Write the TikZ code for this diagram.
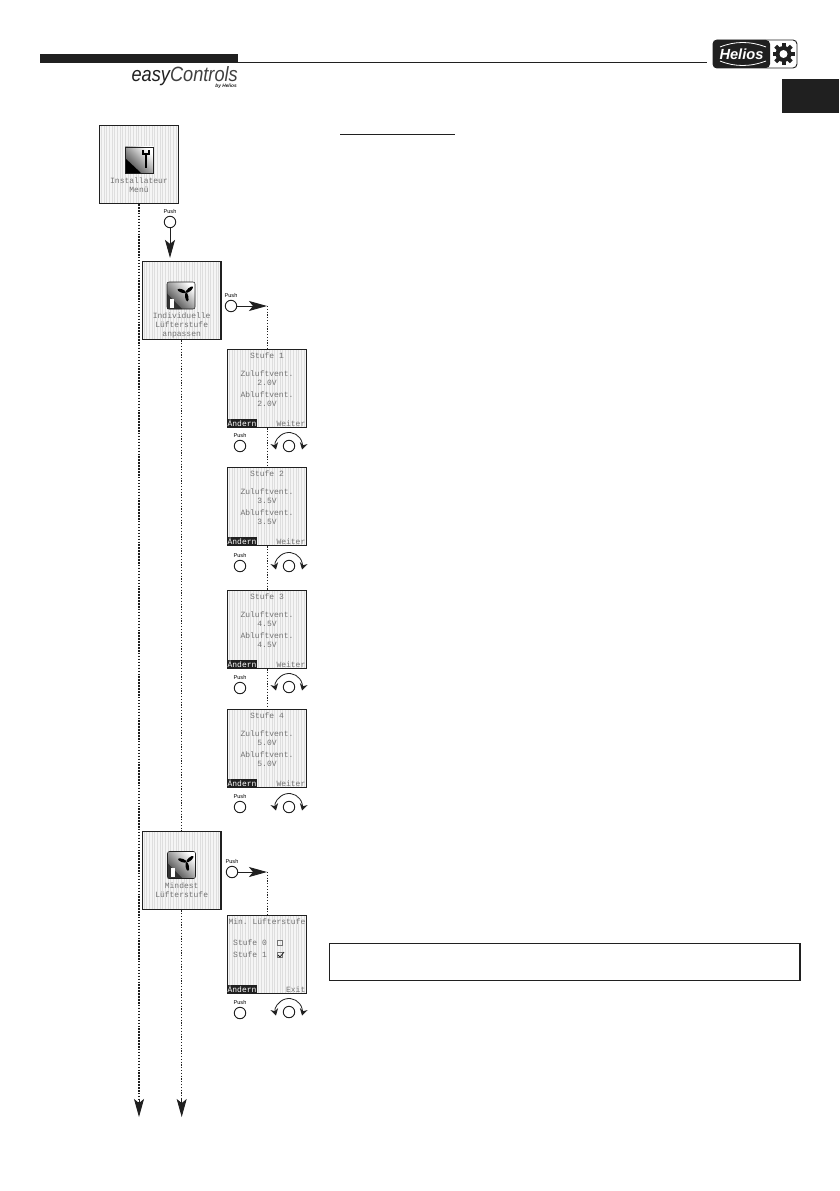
\documentclass[tikz,border=0pt]{standalone}
\usepackage{fontspec}
\setmainfont{Liberation Sans}
\setmonofont{Liberation Mono}
\usetikzlibrary{arrows.meta,patterns.meta}
\definecolor{heliosblack}{RGB}{32,32,32}
\definecolor{lcdtext}{RGB}{115,115,115}
\tikzset{
  screen/.style={draw=heliosblack,line width=0.9pt,minimum size=59pt,inner sep=0pt,
    preaction={fill=black!4},pattern={Lines[angle=90,distance=2pt,line width=0.55pt]},pattern color=black!13},
  lcd/.style={font=\ttfamily\fontsize{6}{6.75}\selectfont,text=lcdtext,align=center,inner sep=0pt},
  softkey/.style={font=\ttfamily\fontsize{6}{6.75}\selectfont,text=white,fill=heliosblack,inner sep=0pt,
    minimum width=22pt,minimum height=6.8pt},
  softright/.style={font=\ttfamily\fontsize{6}{6.75}\selectfont,text=lcdtext,inner sep=0pt},
  pushbtn/.style={circle,draw=heliosblack,line width=0.7pt,minimum size=8.6pt,inner sep=0pt},
  pushtext/.style={font=\fontsize{4.2}{4.4}\selectfont,inner sep=0pt},
  dots/.style={line width=0.6pt,heliosblack,dash pattern=on 0.9pt off 1.2pt},
  heavydots/.style={line width=0.9pt,heliosblack,dash pattern=on 1.1pt off 1.1pt},
  bigarrow/.style={line width=0.7pt,heliosblack,-{Stealth[length=13.5pt,width=7.5pt,inset=3pt]}},
  turnarrow/.style={line width=0.6pt,heliosblack,{Stealth[length=5pt,width=6pt]}-{Stealth[length=5pt,width=6pt]}},
  iconshade/.style={top color=white,middle color=black!12,bottom color=black!75,shading angle=-45}
}
\begin{document}
\begin{tikzpicture}[x=0.75pt,y=-0.75pt]
    \useasboundingbox (0,0) rectangle (839,1191);
    % header
    \fill[heliosblack] (40,54) rectangle (238,63);
    \draw[line width=0.7pt,heliosblack] (238,62.5)--(707,62.5);
    \node[anchor=base east,inner sep=0pt,text depth=0pt,xscale=0.88,transform shape,font=\itshape\fontsize{15.5}{16}\selectfont,text=heliosblack] (brand) at (238,81.7) {easy\textcolor{black!75}{Controls}};
    \node[anchor=north east,inner sep=0pt,font=\bfseries\itshape\fontsize{3.6}{4}\selectfont,text=heliosblack] (byhelios) at (237,84) {by Helios};
    \fill[heliosblack] (782,79) rectangle (839,113);
    % logo
    \draw[heliosblack,line width=0.7pt,rounded corners=3pt] (713,40) rectangle (797,68);
    \fill[heliosblack,rounded corners=3pt] (713,40) -- (770,40) -- (770,68) -- (713,68) -- cycle;
    \node[inner sep=0pt,text=white,font=\bfseries\itshape\fontsize{11}{11}\selectfont] (helios) at (741.5,54) {Helios};
    \draw[white,line width=0.6pt] (720,47) .. controls (735,41) and (750,41) .. (766,47);
    \draw[white,line width=0.6pt] (720,61) .. controls (735,67) and (750,67) .. (766,61);
    \foreach \a in {0,45,...,315}
      \draw[heliosblack,line width=3pt] (783.5,54) -- ++(\a:11);
    \fill[heliosblack] (783.5,54) circle[radius=8];
    \fill[white] (783.5,54) circle[radius=4];
    % text head and note box
    \draw[line width=0.8pt,heliosblack] (340,134.3)--(455,134.3);
    \draw[line width=0.8pt,heliosblack] (329.3,943.3) rectangle (800,980.7);
    % menu screens
    \node[screen] (instmenu) at (139,164.5) {};
    \node[screen] (indivmenu) at (181.7,300.5) {};
    \node[screen] (minmenu) at (181.7,870.5) {};
    \node[lcd] (insttext) at (139,185.5) {Installateur\\Menü};
    \node[lcd] (indivtext) at (181.7,325.5) {Individuelle\\Lüfterstufe\\anpassen};
    \node[lcd] (mintext) at (181.7,890.5) {Mindest\\Lüfterstufe};
    % icons
    \shade[iconshade] (125,147) rectangle (153,173);
    \fill[black] (125,173) -- (125,158) -- (141,173) -- cycle;
    \draw[heliosblack,line width=0.4pt] (125,147) rectangle (153,173);
    \draw[black,line width=1.6pt] (146,153)--(146,168);
    \draw[black,line width=1.2pt] (143,150)--(143,154)--(149,154)--(149,150);
    \foreach \x/\y in {181/295.5,181.5/865}{
      \shade[rounded corners=1.5pt,iconshade] (\x-14,\y-13.5) rectangle (\x+14,\y+13.5);
      \fill[black!80] (\x-14,\y+13.5) -- (\x-14,\y-2) -- (\x+1,\y+13.5) -- cycle;
      \draw[heliosblack,line width=0.4pt,rounded corners=1.5pt] (\x-14,\y-13.5) rectangle (\x+14,\y+13.5);
      \foreach \a in {-80,40,160}
        \fill[black,rotate around={\a:(\x+5,\y-3)}] (\x+9.5,\y-3) ellipse[x radius=4.5,y radius=1.7];
      \fill[white] (\x-11,\y+3) rectangle (\x-7,\y+12);
    }
    % stufe screens
    \foreach \n/\y/\v in {1/388.5/2.0V,2/506.5/3.5V,3/629.5/4.5V,4/748.5/5.0V}{
      \node[screen] (stufe\n) at (267,\y) {};
      \node[lcd,anchor=north] (stufetext\n) at (267,\y-36) {Stufe \n\\[6.75pt]Zuluftvent.\\\v\\[2.25pt]Abluftvent.\\\v};
      \node[softkey,anchor=south west] (aendern\n) at (stufe\n.south west) {Ändern};
      \node[softright,anchor=south east] (weiter\n) at ([xshift=-1pt,yshift=1pt]stufe\n.south east) {Weiter};
    }
    \node[screen] (minstufe) at (267,954.5) {};
    \node[lcd] (mintitle) at (267,922) {Min. Lüfterstufe};
    \node[lcd] (minzero) at (250,943) {Stufe 0};
    \node[lcd] (minone) at (250,955) {Stufe 1};
    \node[draw=lcdtext,line width=0.4pt,minimum size=3.8pt,inner sep=0pt] (chkzero) at (280,943) {};
    \node[draw=lcdtext,line width=0.4pt,minimum size=3.8pt,inner sep=0pt] (chkone) at (280,955) {};
    \draw[heliosblack,line width=0.6pt] (278,955)--(280,957)--(284,952);
    \node[softkey,anchor=south west] (aenderns) at (minstufe.south west) {Ändern};
    \node[softright,anchor=south east] (exit) at ([xshift=-1pt,yshift=1pt]minstufe.south east) {Exit};
    % push buttons
    \foreach \n/\x/\y in {inst/170/222,indiv/231/306,min/232/872,a/240/446,b/240/566,c/240/688,d/240/807,e/240/1013}{
      \node[pushbtn] (push\n) at (\x,\y) {};
      \node[pushtext] (pushlabel\n) at (\x,\y-10.5) {Push};
    }
    % turn buttons
    \foreach \n/\y in {a/446,b/566,c/687,d/807,e/1012}{
      \node[pushbtn] (turn\n) at (289,\y) {};
      \draw[turnarrow] (turn\n.center) ++(165:13.5) arc[start angle=165,end angle=375,radius=13.5];
    }
    % connectors
    \coordinate (endleft) at (139,1117);
    \coordinate (endright) at (181.7,1117);
    \coordinate (turnindiv) at (267,306);
    \coordinate (turnmin) at (267,872);
    \draw[heavydots] (instmenu) -- (139,1102);
    \draw[dots] (indivmenu) -- (minmenu);
    \draw[dots] (minmenu) -- (181.7,1102);
    \draw[dots] (turnindiv) -- (stufe1);
    \draw[dots] (stufe1) -- (stufe2);
    \draw[dots] (stufe2) -- (stufe3);
    \draw[dots] (stufe3) -- (stufe4);
    \draw[dots] (turnmin) -- (minstufe);
    \draw[bigarrow] (endleft)++(0,-18) -- (endleft);
    \draw[bigarrow] (endright)++(0,-18) -- (endright);
    \draw[bigarrow,shorten >=2pt] (pushinst) -- (pushinst |- indivmenu.north);
    \draw[bigarrow] (pushindiv) -- (turnindiv);
    \draw[bigarrow] (pushmin) -- (turnmin);
\end{tikzpicture}
\end{document}
